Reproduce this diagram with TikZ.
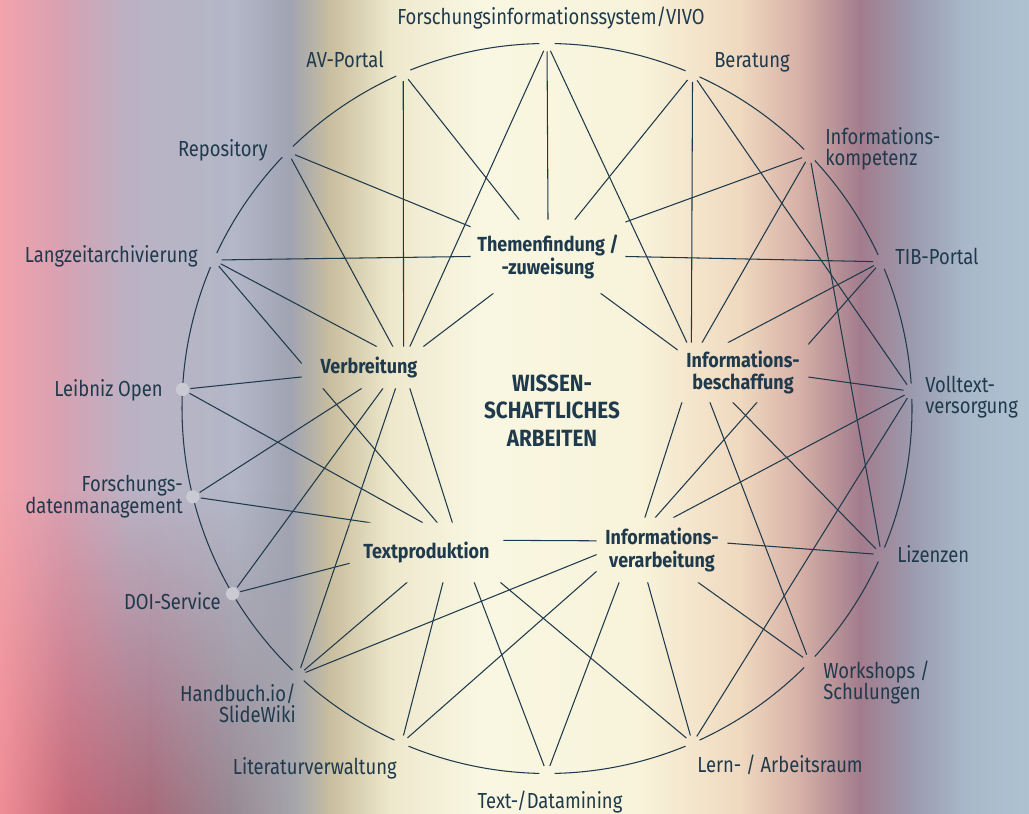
\documentclass[tikz,border=0pt]{standalone}
\usepackage{fontspec}
\setmainfont{Fira Sans}[FakeStretch=0.845]
\newfontfamily\hubfont{Fira Sans}[FakeStretch=0.88]
\usepackage{xcolor}
\usetikzlibrary{calc,positioning,fadings}

\definecolor{ink}{HTML}{1F3A4C}
\definecolor{dotgray}{HTML}{C9CAD4}
\definecolor{bgA}{HTML}{F2A3AC}
\definecolor{bgB}{HTML}{D8A1B1}
\definecolor{bgC}{HTML}{BAB2C4}
\definecolor{bgD}{HTML}{B3B7C7}
\definecolor{bgE}{HTML}{A0A3B2}
\definecolor{bgF}{HTML}{C9BE9E}
\definecolor{bgG}{HTML}{EEE8CC}
\definecolor{bgH}{HTML}{F9F7E2}
\definecolor{bgI}{HTML}{F8F3DA}
\definecolor{bgJ}{HTML}{EFD9BF}
\definecolor{bgK}{HTML}{D6B0A6}
\definecolor{bgL}{HTML}{A27C8C}
\definecolor{bgM}{HTML}{9C9CB0}
\definecolor{bgN}{HTML}{A8B8CA}
\definecolor{bgO}{HTML}{AEC2D2}
\definecolor{lowA}{HTML}{F0868E}
\definecolor{lowB}{HTML}{C05868}
\definecolor{lowC}{HTML}{A45262}
\definecolor{lowD}{HTML}{8E7880}
\definecolor{lowE}{HTML}{AAAAAD}

\begin{document}
\begin{tikzpicture}[x=0.025cm,y=0.025cm,
  rim/.style={draw=ink,line width=0.75pt},
  link/.style={draw=ink,line width=0.75pt,shorten <=0.2cm},
  chord/.style={draw=ink,line width=0.75pt,shorten <=0.2cm,shorten >=0.2cm},
  tie/.style={draw=ink,line width=0.75pt},
  outer/.style={text=ink,inner sep=0pt,font=\fontsize{15.5}{15}\selectfont},
  hub/.style={text=ink,inner sep=0pt,align=center,font=\hubfont\bfseries\fontsize{14.5}{16.3}\selectfont},
  spot/.style={circle,fill=dotgray,inner sep=0pt,minimum size=0.33cm}]
\useasboundingbox (0,0) rectangle (1029,813);

% Background
\foreach \xa/\ca/\xb/\cb in {0/bgA/60/bgB, 60/bgB/130/bgC, 130/bgC/235/bgD,
    235/bgD/290/bgE, 290/bgE/330/bgF, 330/bgF/390/bgG, 390/bgG/480/bgH,
    480/bgH/640/bgI, 640/bgI/740/bgJ, 740/bgJ/800/bgK, 800/bgK/860/bgL,
    860/bgL/915/bgM, 915/bgM/965/bgN, 965/bgN/1029/bgO}
  \shade[left color=\ca,right color=\cb] (\xa,0) rectangle (\xb+0.6,813);
% darker red at the lower left
\foreach \xa/\ca/\xb/\cb in {0/lowA/70/lowB, 70/lowB/150/lowC, 150/lowC/230/lowD,
    230/lowD/300/lowE}
  \shade[left color=\ca,right color=\cb,path fading=north,opacity=0.75] (\xa,0) rectangle (\xb,320);

% Outer points
\coordinate (c) at (547,404.5);
\foreach \n/\a in {fis/90, ber/66.5, ikomp/44, tib/23.7, vtext/2.7, liz/-23.6,
    wshop/-44, lern/-66.5, tdm/-90, litv/-113.5, hbuch/-133, doi/-149.5,
    fdm/-166, lopen/177, lza/156, repo/135.3, avp/113.2}
  \coordinate (\n) at ($(c)+(\a:365)$);

% Circle, open at the points
\foreach \a/\b in {90/66.5, 66.5/44, 44/23.7, 23.7/2.7, 2.7/-23.6, -23.6/-44,
    -44/-66.5, -66.5/-90, -90/-113.5, -113.5/-133, -133/-204, -204/-224.7,
    -224.7/-246.8, -246.8/-270}
  \draw[rim] ($(c)+(\a-1.2:365)$) arc[start angle=\a-1.2,end angle=\b+1.2,radius=365];

% Inner topics
\node[hub,minimum width=3.85cm,minimum height=1.825cm] (them) at (548,556.5) {Themenfindung /\\-zuweisung};
\node[hub,minimum width=3.35cm,minimum height=1.025cm] (verb) at (369,445.5) {Verbreitung};
\node[hub,minimum width=3.25cm,minimum height=1.475cm] (ibes) at (743,440.5) {Informations-\\beschaffung};
\node[hub,minimum width=3.25cm,minimum height=1.6cm] (iver) at (662,263) {Informations-\\verarbeitung};
\node[hub,minimum width=3.825cm,minimum height=1.475cm] (tprod) at (426.5,260.5) {Textproduktion};
\node[hub,font=\hubfont\bfseries\fontsize{16.7}{19.5}\selectfont] (core) at (552,402.5) {WISSEN-\\SCHAFTLICHES\\ARBEITEN};

% Connections (cut out round the topics)
\begin{scope}[even odd rule]
\clip (0,0) rectangle (1029,813)
  (them.south east) rectangle (them.north west)
  (verb.south east) rectangle (verb.north west)
  (ibes.south east) rectangle (ibes.north west)
  (iver.south east) rectangle (iver.north west)
  (tprod.south east) rectangle (tprod.north west);
\foreach \s/\t in {fis/them.north, avp/them.128, ber/them.54, repo/them.159,
    lza/them.west, ikomp/them.24, tib/them.east,
    lza/verb.69, repo/verb.41, avp/verb.31, fis/verb.27, lopen/verb.188,
    fdm/verb.251, doi/verb.304, hbuch/verb.322,
    fis/ibes.152, ber/ibes.150, ikomp/ibes.144, tib/ibes.117, vtext/ibes.356,
    wshop/ibes.222, liz/ibes.251,
    hbuch/iver.184, litv/iver.198, tib/iver.102, vtext/iver.71, liz/iver.6,
    tdm/iver.217, lern/iver.246, wshop/iver.318,
    fdm/tprod.152, lopen/tprod.97, lza/tprod.70, doi/tprod.188, hbuch/tprod.237,
    litv/tprod.299, tdm/tprod.328, lern/tprod.338}
  \draw[link] (\s) -- (\t);
\draw[chord] (ber) -- (vtext);
\draw[chord] (ikomp) -- (liz);
\draw[chord] (vtext) -- (lern);
% pentagon of topics
\draw[tie] (them.214) -- (verb.21);
\draw[tie] (them.325) -- (ibes.161);
\draw[tie] (ibes.206) -- (iver.118);
\draw[tie] (iver.172) -- (tprod.9);
\draw[tie] (tprod.49) -- (verb.333);
\end{scope}

% Marked points
\node[spot] (lopendot) at (lopen) {};
\node[spot] (fdmdot) at (fdm) {};
\node[spot] (doidot) at (doi) {};

% Labels
\node[outer,anchor=base] (fislab) at (551,788) {Forschungsinformationssystem/VIVO};
\node[outer,anchor=base east] (avplab) at (384,745) {AV-Portal};
\node[outer,anchor=base west] (berlab) at (714,745) {Beratung};
\node[outer,anchor=north west,align=left] (ikomplab) at (825,686) {Informations-\\kompetenz};
\node[outer,anchor=base west] (tiblab) at (895,548) {TIB-Portal};
\node[outer,anchor=north west,align=left] (vtextlab) at (925,437.6) {Volltext-\\versorgung};
\node[outer,anchor=base west] (lizlab) at (897,250) {Lizenzen};
\node[outer,anchor=north west,align=left] (wshoplab) at (823,152.3) {Workshops /\\Schulungen};
\node[outer,anchor=base west] (lernlab) at (697,40) {Lern- / Arbeitsraum};
\node[outer,anchor=base] (tdmlab) at (550,5) {Text-/Datamining};
\node[outer,anchor=base east] (litvlab) at (397,38) {Literaturverwaltung};
\node[outer,anchor=north east,align=right] (hbuchlab) at (296,129.3) {Handbuch.io/\\SlideWiki};
\node[outer,anchor=base east] (doilab) at (221,203) {DOI-Service};
\node[outer,anchor=north east,align=right] (fdmlab) at (183,337.6) {Forschungs-\\datenmanagement};
\node[outer,anchor=base east] (lopenlab) at (163,416) {Leibniz Open};
\node[outer,anchor=base east] (lzalab) at (198,550) {Langzeitarchivierung};
\node[outer,anchor=base east] (repolab) at (268,656) {Repository};
\end{tikzpicture}
\end{document}
